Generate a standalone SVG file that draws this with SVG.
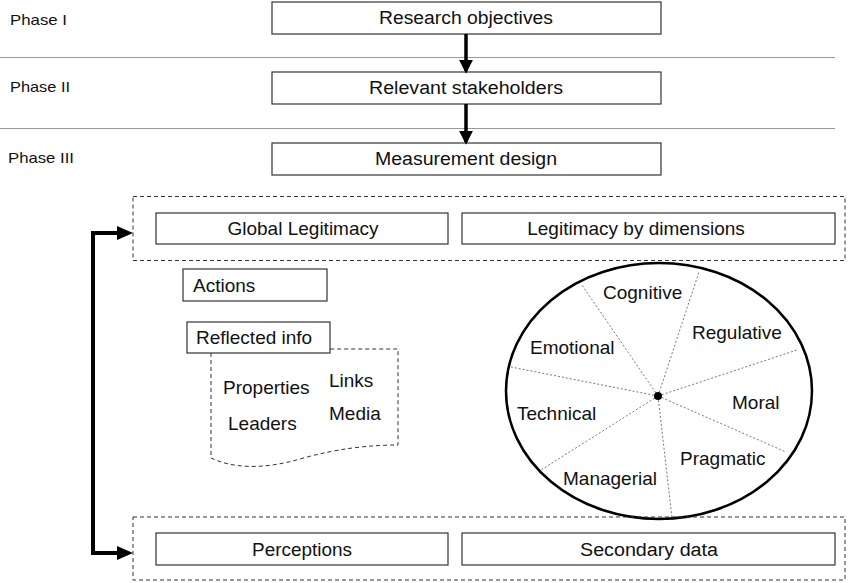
<svg xmlns="http://www.w3.org/2000/svg" width="850" height="583" viewBox="0 0 850 583">
<style>
.box{fill:#fff;stroke:#333;stroke-width:1.2}
.dbox{fill:none;stroke:#333;stroke-width:1;stroke-dasharray:4 3}
.sep{stroke:#999;stroke-width:1}
.spoke{stroke:#777;stroke-width:1;stroke-dasharray:2 2}
.t{font-family:"Liberation Sans",Arial,sans-serif;font-size:19px;fill:#111}
.n{font-family:"Liberation Sans Narrow","Liberation Sans",Arial,sans-serif;font-size:18px;fill:#111}
.p{font-family:"Liberation Sans",Arial,sans-serif;font-size:15px;fill:#111}
.m{text-anchor:middle}
</style>
<defs>
<marker id="ah" markerWidth="4" markerHeight="4" refX="3.2" refY="2" orient="auto" markerUnits="strokeWidth">
<path d="M0,0 L4,2 L0,4 z" fill="#000"/>
</marker>
</defs>
<line class="sep" x1="0" y1="57.5" x2="835" y2="57.5"/>
<line class="sep" x1="0" y1="128.5" x2="835" y2="128.5"/>
<text class="p" x="10" y="25" textLength="57" lengthAdjust="spacingAndGlyphs">Phase I</text>
<text class="p" x="10" y="92" textLength="60" lengthAdjust="spacingAndGlyphs">Phase II</text>
<text class="p" x="8" y="163" textLength="66" lengthAdjust="spacingAndGlyphs">Phase III</text>

<g id="research">
<rect class="box" x="272" y="2" width="389" height="32"/>
<text class="n m" x="466" y="24" textLength="174" lengthAdjust="spacingAndGlyphs">Research objectives</text>
</g>
<g id="stakeholders">
<rect class="box" x="272" y="72" width="389" height="32"/>
<text class="n m" x="466" y="94" textLength="194" lengthAdjust="spacingAndGlyphs">Relevant stakeholders</text>
</g>
<g id="measurement">
<rect class="box" x="272" y="143" width="389" height="32"/>
<text class="n m" x="466" y="165" textLength="182" lengthAdjust="spacingAndGlyphs">Measurement design</text>
</g>

<g id="top-group">
<rect class="dbox" x="133" y="196.5" width="712" height="64"/>
<g id="global">
<rect class="box" x="156" y="213" width="292" height="31"/>
<text class="t m" x="303" y="235">Global Legitimacy</text>
</g>
<g id="dimensions">
<rect class="box" x="462" y="213" width="373" height="31"/>
<text class="t m" x="636" y="235">Legitimacy by dimensions</text>
</g>
</g>

<g id="actions">
<rect class="box" x="183" y="269" width="144" height="32"/>
<text class="t" x="193" y="292">Actions</text>
</g>

<g id="reflected-doc">
<path class="dbox" d="M211,353 V458 C232,468 262,470 300,459 S372,445 398,445 V349 H330"/>
<text class="t" x="223" y="394">Properties</text>
<text class="t" x="228" y="430">Leaders</text>
<text class="t" x="329" y="387">Links</text>
<text class="t" x="329" y="420">Media</text>
</g>
<g id="reflected">
<rect class="box" x="187" y="322" width="143" height="31"/>
<text class="t" x="196" y="344">Reflected info</text>
</g>

<g id="dimensions-wheel">
<ellipse cx="659" cy="391" rx="153" ry="128" fill="#fff" stroke="#000" stroke-width="2.5"/>
<line class="spoke" x1="658" y1="396" x2="582" y2="285"/>
<line class="spoke" x1="658" y1="396" x2="699" y2="272"/>
<line class="spoke" x1="658" y1="396" x2="797" y2="350"/>
<line class="spoke" x1="658" y1="396" x2="786" y2="452"/>
<line class="spoke" x1="658" y1="396" x2="672" y2="518"/>
<line class="spoke" x1="658" y1="396" x2="541" y2="470"/>
<line class="spoke" x1="658" y1="396" x2="511" y2="367"/>
<circle cx="658" cy="396" r="4" fill="#000"/>
<text class="t" x="603" y="299">Cognitive</text>
<text class="t" x="692" y="339">Regulative</text>
<text class="t" x="530" y="354">Emotional</text>
<text class="t" x="732" y="409">Moral</text>
<text class="t" x="517" y="420">Technical</text>
<text class="t" x="680" y="465">Pragmatic</text>
<text class="t" x="563" y="485">Managerial</text>
</g>

<g id="bottom-group">
<rect class="dbox" x="133" y="517" width="712" height="63"/>
<g id="perceptions">
<rect class="box" x="156" y="533" width="292" height="32"/>
<text class="n m" x="302" y="556" textLength="100" lengthAdjust="spacingAndGlyphs">Perceptions</text>
</g>
<g id="secondary">
<rect class="box" x="462" y="533" width="373" height="32"/>
<text class="n m" x="649" y="556" textLength="138" lengthAdjust="spacingAndGlyphs">Secondary data</text>
</g>
</g>

<g id="connectors">
<line x1="466" y1="34" x2="466" y2="71" stroke="#000" stroke-width="3.5" marker-end="url(#ah)"/>
<line x1="466" y1="104" x2="466" y2="142" stroke="#000" stroke-width="3.5" marker-end="url(#ah)"/>
<polyline points="119,233 93,233 93,553 119,553" fill="none" stroke="#000" stroke-width="4"/>
<polygon points="117,226 133,233 117,240" fill="#000"/>
<polygon points="117,546 133,553 117,560" fill="#000"/>
</g>
</svg>
